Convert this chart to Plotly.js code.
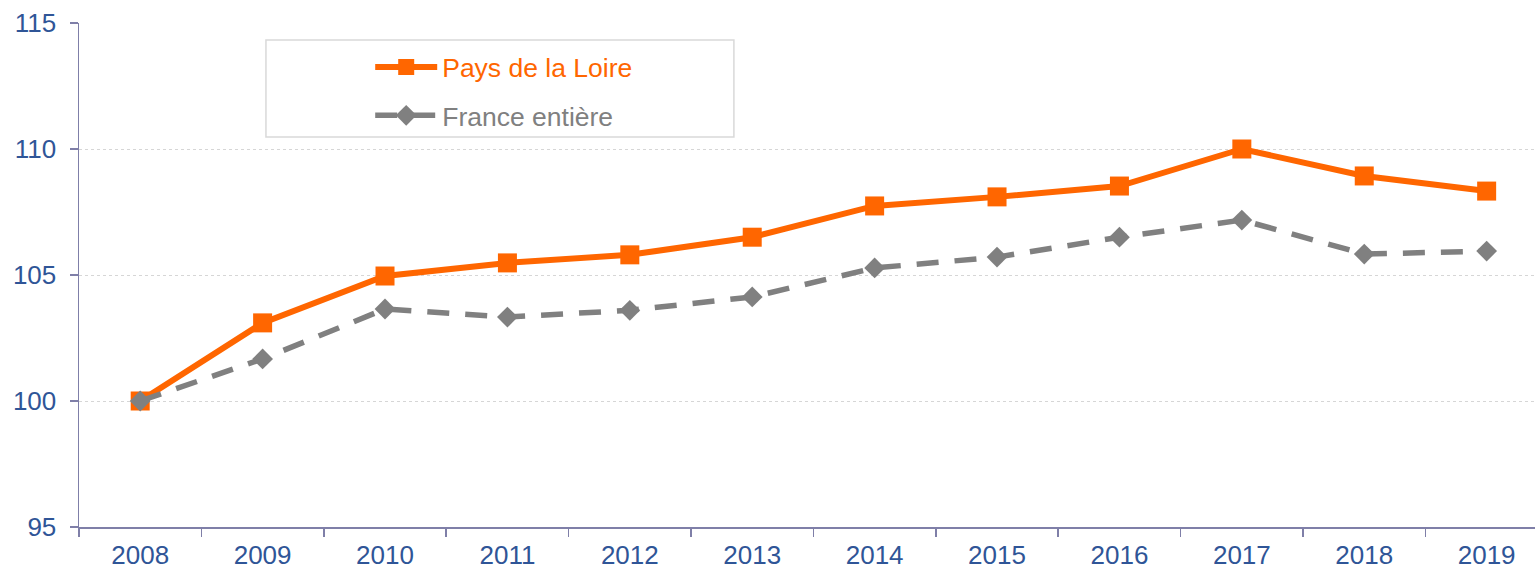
<!DOCTYPE html>
<html>
<head>
<meta charset="utf-8">
<script src="https://cdn.plot.ly/plotly-3.0.1.min.js"></script>
<style>html,body{margin:0;padding:0;background:#fff;}#chart{width:1535px;height:569px;}</style>
</head>
<body>
<div id="chart"></div>
<script>
const years = ["2008","2009","2010","2011","2012","2013","2014","2015","2016","2017","2018","2019"];
const paysDeLaLoire = [100, 103.1, 104.96, 105.48, 105.8, 106.5, 107.74, 108.1, 108.53, 110.0, 108.93, 108.33];
const franceEntiere = [100, 101.67, 103.65, 103.33, 103.6, 104.13, 105.28, 105.71, 106.5, 107.18, 105.83, 105.95];
const yTicks = [95, 100, 105, 110, 115];
const seriesNames = ["Pays de la Loire", "France entière"];
const seriesColors = ["#ff6600", "#808080"];

const traces = [
  {
    x: years, y: paysDeLaLoire, type: "scatter", mode: "lines+markers",
    name: '<span style="color:' + seriesColors[0] + '">' + seriesNames[0] + '</span>',
    legendgroup: "a",
    line: {color: seriesColors[0], width: 6},
    marker: {symbol: "square", size: 19, color: seriesColors[0]}
  },
  {
    x: years, y: franceEntiere, type: "scatter", mode: "lines+markers",
    name: '<span style="color:' + seriesColors[1] + '">' + seriesNames[1] + '</span>',
    legendgroup: "b",
    line: {color: seriesColors[1], width: 5.5, dash: "22px,16px"},
    marker: {symbol: "diamond", size: 16, color: seriesColors[1]}
  }
];

const axisColor = "#7f7fa8";
const labelColor = "#2f5597";
const layout = {
  width: 1535, height: 569,
  margin: {l: 79, r: 0, t: 23, b: 42, pad: 0},
  paper_bgcolor: "#ffffff", plot_bgcolor: "#ffffff",
  font: {family: "Liberation Sans, Arial, sans-serif", size: 26, color: labelColor},
  showlegend: true,
  legend: {
    x: 0.2, y: 0.96, xanchor: "left", yanchor: "top",
    bgcolor: "rgba(0,0,0,0)", borderwidth: 0,
    font: {size: 26.5}, itemwidth: 62, traceorder: "grouped", tracegroupgap: 11
  },
  xaxis: {
    type: "category", range: [-0.5, 11.395], tickson: "boundaries",
    showline: true, linecolor: axisColor, linewidth: 1.5,
    ticks: "outside", ticklen: 8, tickcolor: axisColor, tickwidth: 1.5,
    showgrid: false, zeroline: false,
    tickfont: {size: 26, color: labelColor}, ticklabelstandoff: 4
  },
  yaxis: {
    range: [95, 115], tickvals: yTicks, ticktext: yTicks.map(String),
    showline: true, linecolor: axisColor, linewidth: 1.5,
    ticks: "outside", ticklen: 8, tickcolor: axisColor, tickwidth: 1.5,
    showgrid: true, gridcolor: "#d6d6d6", griddash: "dot", gridwidth: 1,
    zeroline: false,
    tickfont: {size: 26, color: labelColor}, ticklabelstandoff: 8
  },
  shapes: [
    {type: "rect", xref: "paper", yref: "paper", x0: 0.1284, x1: 0.4498, y0: 0.7738, y1: 0.9663,
     line: {color: "#d9d9d9", width: 1.5}, fillcolor: "rgba(0,0,0,0)", layer: "below"}
  ]
};

Plotly.newPlot("chart", traces, layout, {displayModeBar: false, staticPlot: true});
</script>
</body>
</html>
